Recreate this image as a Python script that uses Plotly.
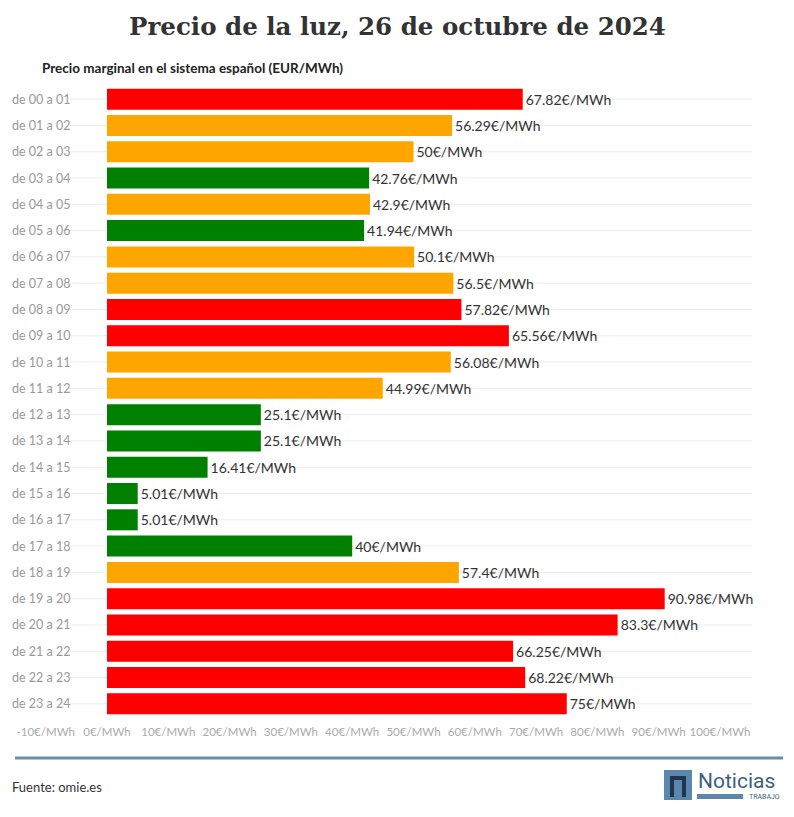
import plotly.graph_objects as go

categories = [f"de {h:02d} a {h+1:02d}" for h in range(24)]
prices = [67.82, 56.29, 50, 42.76, 42.9, 41.94, 50.1, 56.5, 57.82, 65.56, 56.08, 44.99,
          25.1, 25.1, 16.41, 5.01, 5.01, 40, 57.4, 90.98, 83.3, 66.25, 68.22, 75]
levels = ["alto", "medio", "medio", "bajo", "medio", "bajo", "medio", "medio", "alto", "alto",
          "medio", "medio", "bajo", "bajo", "bajo", "bajo", "bajo", "bajo", "medio",
          "alto", "alto", "alto", "alto", "alto"]
level_colors = {"alto": "#ff0000", "medio": "#ffa500", "bajo": "#008000"}
tick_values = list(range(-10, 101, 10))
tick_labels = [f"{v}€/MWh" for v in tick_values]

W, H = 794, 817
ml, mr, mt, mb = 8, 42, 86, 100

fig = go.Figure(go.Bar(
    x=prices, y=categories, orientation="h",
    marker=dict(color=[level_colors[l] for l in levels], line=dict(width=0)),
    text=[f"{v:g}€/MWh" for v in prices], textposition="outside",
    textfont=dict(family="Lato", size=14, color="#333333"),
    cliponaxis=False, hoverinfo="skip",
))

px0 = 107; scale = 6.13
xmin = (ml - px0) / scale
xmax = (W - mr - px0) / scale

shapes = []
pw = W - ml - mr
ph = H - mt - mb

def py(yp):
    return 1 - (yp - mt) / ph
def pxf(xp):
    return (xp - ml) / pw

for c in categories:
    shapes.append(dict(type="line", xref="paper", yref="y", x0=pxf(70), x1=1,
                       y0=c, y1=c, line=dict(color="#ececec", width=1), layer="below"))
# bottom rule
shapes.append(dict(type="line", xref="paper", yref="paper", x0=pxf(15), x1=pxf(783),
                   y0=py(758), y1=py(758), line=dict(color="#6b8ea8", width=3)))

# logo
shapes.append(dict(type="rect", xref="paper", yref="paper", x0=pxf(664), x1=pxf(692),
                   y0=py(800), y1=py(770), fillcolor="#5b86ad", line=dict(width=0)))
shapes.append(dict(type="path", xref="paper", yref="paper",
                   path=f"M {pxf(670)} {py(797)} L {pxf(670)} {py(776)} L {pxf(686)} {py(776)} L {pxf(686)} {py(797)} L {pxf(682)} {py(797)} L {pxf(682)} {py(780)} L {pxf(674)} {py(780)} L {pxf(674)} {py(797)} Z",
                   fillcolor="#1f3550", line=dict(width=0)))
shapes.append(dict(type="rect", xref="paper", yref="paper", x0=pxf(697), x1=pxf(743),
                   y0=py(799), y1=py(794), fillcolor="#5b86ad", line=dict(width=0)))

annotations = [
    dict(text="<b>Precio de la luz, 26 de octubre de 2024</b>", xref="paper", yref="paper",
         x=pxf(397), y=py(26), xanchor="center", yanchor="middle", showarrow=False,
         font=dict(family="DejaVu Serif", size=24.5, color="#333333")),
    dict(text="<b>Precio marginal en el sistema español (EUR/MWh)</b>", xref="paper", yref="paper",
         x=pxf(40), y=py(68), xanchor="left", yanchor="middle", showarrow=False,
         font=dict(family="Lato", size=13.5, color="#222222")),
    dict(text="Fuente: omie.es", xref="paper", yref="paper",
         x=pxf(10), y=py(787), xanchor="left", yanchor="middle", showarrow=False,
         font=dict(family="Lato", size=13, color="#333333")),
    dict(text="Noticias", xref="paper", yref="paper",
         x=pxf(696), y=py(781), xanchor="left", yanchor="middle", showarrow=False,
         font=dict(family="Roboto", size=21, color="#3d5f80")),
    dict(text="TRABAJO", xref="paper", yref="paper",
         x=pxf(782), y=py(797), xanchor="right", yanchor="middle", showarrow=False,
         font=dict(family="Roboto", size=7, color="#3d5f80")),
]
for c in categories:
    annotations.append(dict(text=c, xref="paper", yref="y", x=pxf(10), y=c,
                            xanchor="left", yanchor="middle", showarrow=False,
                            font=dict(family="Lato", size=12.5, color="#999999")))

fig.update_layout(
    width=W, height=H, margin=dict(l=ml, r=mr, t=mt, b=mb, autoexpand=False),
    paper_bgcolor="white", plot_bgcolor="white",
    bargap=0.2, showlegend=False,
    xaxis=dict(range=[xmin, xmax], tickvals=tick_values, ticktext=tick_labels,
               showgrid=False, zeroline=False, showline=False, ticks="", tickangle=0,
               automargin=False,
               tickfont=dict(family="Lato", size=11.5, color="#aaaaaa"), ticklabelstandoff=6),
    yaxis=dict(categoryorder="array", categoryarray=categories, autorange="reversed",
               showgrid=False, zeroline=False, showline=False, ticks="", automargin=False,
               showticklabels=False),
    shapes=shapes, annotations=annotations,
)

fig.write_html("out.html", post_script="document.body.style.margin='0';",
               config={"displayModeBar": False})
